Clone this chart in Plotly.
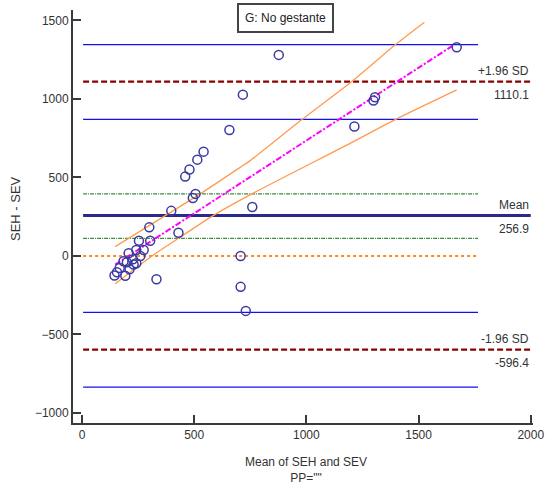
import plotly.graph_objects as go

# Bland-Altman data: mean of SEH and SEV (x) vs difference SEH - SEV (y)
mean_vals = [145, 156, 168, 185, 193, 200, 208, 212, 227, 230, 242, 242, 254, 260,
             275, 300, 304, 332, 398, 430, 460, 479, 494, 506, 514, 542, 657, 707,
             707, 717, 730, 759, 877, 1214, 1299, 1306, 1670]
diff_vals = [-125, -104, -77, -34, -127, -41, 17, -85, -22, -55, 38, -47, 97, 0,
             38, 182, 97, -149, 287, 148, 505, 550, 369, 395, 613, 664, 802, 0,
             -197, 1027, -350, 312, 1280, 824, 989, 1010, 1329]

# Summary statistics
bias = 256.9
loa_upper = 1110.1
loa_lower = -596.4
bias_ci = [112, 395]
loa_upper_ci = [870, 1345]
loa_lower_ci = [-835, -360]

# Regression of differences on means, with its confidence band
reg_x = [148, 1652]
reg_y = [-55, 1339]
band_up_x = [148, 364, 527, 705, 750, 980, 1203, 1396, 1526]
band_up_y = [59, 250, 395, 564, 607, 868, 1110, 1344, 1488]
band_lo_x = [148, 312, 430, 579, 757, 1195, 1396, 1670]
band_lo_y = [-177, 0, 112, 252, 395, 717, 868, 1057]

x_ticks = [0, 500, 1000, 1500, 2000]
y_ticks = [-1000, -500, 0, 500, 1000, 1500]

x_start, x_end, x_far = 5, 1765, 2000
font_family = "Liberation Sans, Arial, sans-serif"
txt_color = "#333333"
fsize = 12

fig = go.Figure()


def hline(y, color, width, dash, x1=x_end):
    fig.add_trace(go.Scatter(x=[x_start, x1], y=[y, y], mode="lines",
                             line=dict(color=color, width=width, dash=dash),
                             hoverinfo="skip", showlegend=False))


# Confidence limits of the limits of agreement
for v in loa_upper_ci + loa_lower_ci:
    hline(v, "#1010F0", 1.2, "solid")
# Confidence interval of the bias
for v in bias_ci:
    hline(v, "#3C8C3C", 1.3, "4px,1px,1px,1px")
# Line of equality
hline(0, "#FF8A20", 2, "dot")
# Limits of agreement and mean difference
hline(loa_upper, "#8B0000", 2.2, "6px,3px", x_far)
hline(loa_lower, "#8B0000", 2.2, "6px,3px", x_far)
hline(bias, "#2A2A8A", 3, "solid", x_far)

# Regression confidence band
for bx, by in ((band_up_x, band_up_y), (band_lo_x, band_lo_y)):
    fig.add_trace(go.Scatter(x=bx, y=by, mode="lines",
                             line=dict(color="#FF9A50", width=1.3, shape="spline",
                                       smoothing=0.6),
                             hoverinfo="skip", showlegend=False))
# Regression line
fig.add_trace(go.Scatter(x=reg_x, y=reg_y, mode="lines",
                         line=dict(color="#FF00FF", width=2, dash="6px,2px,2px,2px"),
                         hoverinfo="skip", showlegend=False))

# Observations
fig.add_trace(go.Scatter(x=mean_vals, y=diff_vals, mode="markers",
                         marker=dict(symbol="circle-open", size=9,
                                     color="#3A3AA0", line=dict(width=1.5)),
                         showlegend=False))

# Labels on the right-hand side
labels = [(loa_upper, "+1.96 SD", f"{loa_upper:.1f}"),
          (bias, "Mean", f"{bias:.1f}"),
          (loa_lower, "-1.96 SD", f"{loa_lower:.1f}")]
for y, above, below in labels:
    for text, shift in ((above, 11), (below, -13)):
        fig.add_annotation(x=x_far, y=y, text=text, showarrow=False,
                           xanchor="right", yanchor="middle", yshift=shift,
                           font=dict(family=font_family, size=fsize, color=txt_color))

# Group box
fig.add_annotation(x=0.462, y=1.0, xref="paper", yref="paper",
                   text="G: No gestante", showarrow=False,
                   xanchor="center", yanchor="top", yshift=7,
                   font=dict(family=font_family, size=fsize, color="#222222"),
                   bordercolor="#444444", borderwidth=2, borderpad=6,
                   bgcolor="white")

# Axis titles
fig.add_annotation(x=1000, y=0, xref="x", yref="paper", yanchor="top",
                   text="Mean of SEH and SEV<br>PP=\"\"", showarrow=False,
                   yshift=-30,
                   font=dict(family=font_family, size=fsize, color=txt_color))
fig.add_annotation(x=-0.125, y=0.5, xref="paper", yref="paper",
                   text="SEH - SEV", textangle=-90, showarrow=False,
                   xanchor="center", yanchor="middle", yshift=8,
                   font=dict(family=font_family, size=fsize + 1, color=txt_color))

axis_common = dict(showgrid=False, zeroline=False, showline=True,
                   linecolor="#3A3A3A", linewidth=2, ticks="inside",
                   tickcolor="#3A3A3A", tickwidth=2, ticklen=8,
                   automargin=False,
                   tickfont=dict(family=font_family, size=fsize, color=txt_color))

fig.update_xaxes(range=[-40, 2010], tickvals=x_ticks, **axis_common)
fig.update_yaxes(range=[-1064, 1566], tickvals=y_ticks, **axis_common)

fig.update_layout(width=545, height=491,
                  margin=dict(l=73, r=12, t=10, b=68),
                  plot_bgcolor="white", paper_bgcolor="white")

fig.write_html("out.html")
